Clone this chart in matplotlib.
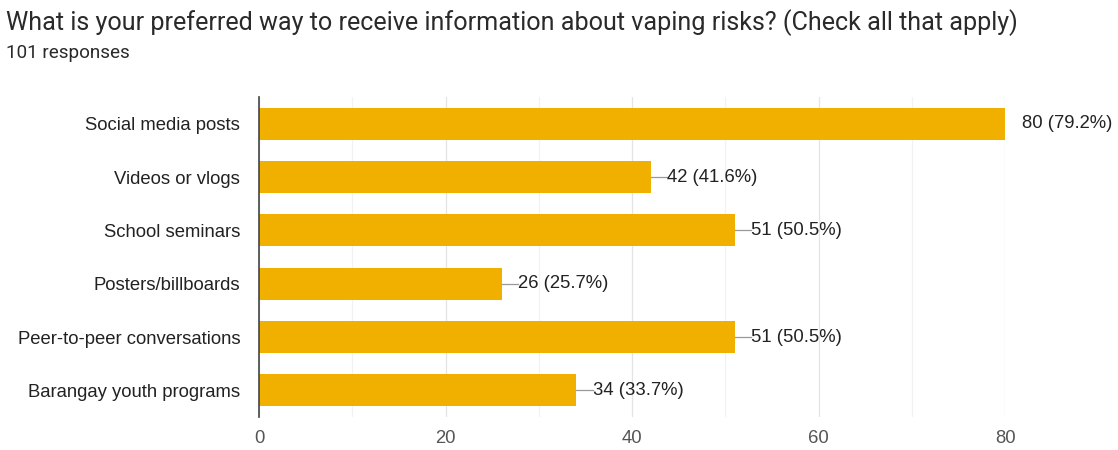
import matplotlib
matplotlib.use("Agg")
import matplotlib.pyplot as plt
from matplotlib.ticker import MultipleLocator

categories = [
    "Social media posts",
    "Videos or vlogs",
    "School seminars",
    "Posters/billboards",
    "Peer-to-peer conversations",
    "Barangay youth programs",
]
counts = [80, 42, 51, 26, 51, 34]
total_responses = 101
title = "What is your preferred way to receive information about vaping risks? (Check all that apply)"
subtitle = f"{total_responses} responses"

bar_color = "#F1AF00"
text_color = "#222222"
chart_font = "Liberation Sans"
label_size = 13.3

fig = plt.figure(figsize=(11.18, 4.5), dpi=100)
ax = fig.add_axes([0.2317, 0.0733, 0.6673, 0.7111])

y = list(range(len(categories)))
ax.barh(y, counts, height=0.6, color=bar_color, zorder=3)
ax.set_ylim(len(categories) - 0.5, -0.5)
ax.set_xlim(0, 80)

ax.set_yticks(y)
ax.set_yticklabels(categories, fontsize=label_size, color=text_color, family=chart_font)
ax.xaxis.set_major_locator(MultipleLocator(20))
ax.xaxis.set_minor_locator(MultipleLocator(10))
ax.tick_params(axis="x", which="both", length=0, pad=9, labelsize=label_size, labelcolor="#555555")
ax.tick_params(axis="y", length=0, pad=13.5)
for lbl in ax.get_xticklabels():
    lbl.set_family(chart_font)

ax.grid(axis="x", which="major", color="#E4E4E4", linewidth=0.9, zorder=0)
ax.grid(axis="x", which="minor", color="#F2F2F2", linewidth=0.9, zorder=0)
for side in ("top", "right", "bottom"):
    ax.spines[side].set_visible(False)
ax.spines["left"].set_color("#444444")
ax.spines["left"].set_linewidth(1.2)
ax.spines["left"].set_zorder(4)

offset = 1.8
for yi, c in zip(y, counts):
    pct = 100 * c / total_responses
    label = f"{c} ({pct:.1f}%)"
    if c + offset <= 80:
        ax.plot([c, c + offset], [yi, yi], color="#999999", linewidth=0.9, zorder=3)
    ax.text(c + offset, yi, label, va="center", ha="left", fontsize=label_size,
            color=text_color, family=chart_font, clip_on=False)

fig.text(0.005, 0.95, title, fontsize=18.05, color="#2a2a2a", family="Roboto", va="center")
fig.text(0.005, 0.882, subtitle, fontsize=13.6, color="#2a2a2a", family="Roboto", va="center")

fig.savefig("out.png", dpi=100, facecolor="white")
